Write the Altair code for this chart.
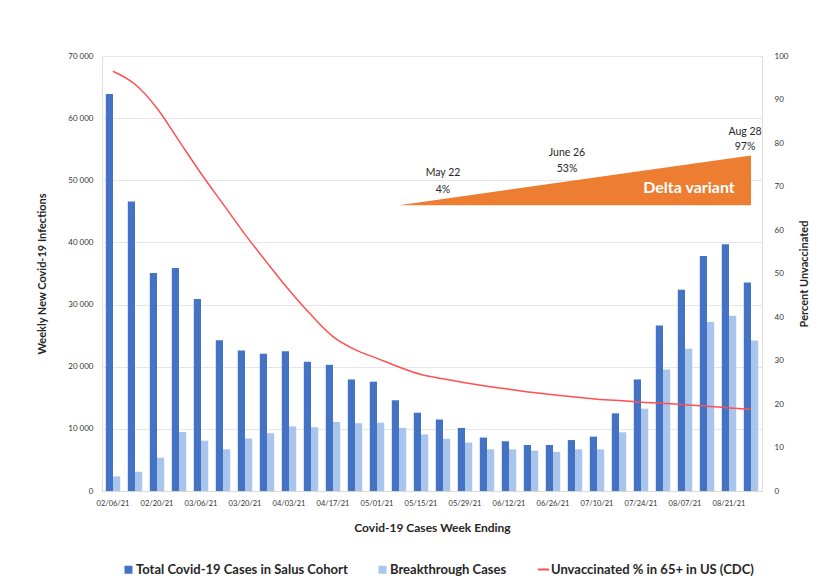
import altair as alt
import pandas as pd

# ---------------- data ----------------
weeks = ["02/06/21", "02/13/21", "02/20/21", "02/27/21", "03/06/21", "03/13/21",
         "03/20/21", "03/27/21", "04/03/21", "04/10/21", "04/17/21", "04/24/21",
         "05/01/21", "05/08/21", "05/15/21", "05/22/21", "05/29/21", "06/05/21",
         "06/12/21", "06/19/21", "06/26/21", "07/03/21", "07/10/21", "07/17/21",
         "07/24/21", "07/31/21", "08/07/21", "08/14/21", "08/21/21", "08/28/21"]

total_cases = [63900, 46600, 35100, 35900, 30900, 24250, 22600, 22100, 22500, 20800,
               20300, 17950, 17600, 14600, 12600, 11500, 10150, 8600, 8000, 7400,
               7400, 8200, 8750, 12500, 17950, 26650, 32400, 37800, 39700, 33550]

breakthrough_cases = [2350, 3100, 5350, 9500, 8100, 6700, 8450, 9300, 10400, 10250,
                      11100, 10900, 11000, 10150, 9100, 8400, 7800, 6700, 6700, 6500,
                      6300, 6700, 6700, 9450, 13250, 19550, 22900, 27200, 28200, 24200]

unvaccinated_pct = [96.5, 93.5, 88.0, 80.5, 73.0, 66.0, 59.0, 52.5, 46.2, 40.5,
                    35.5, 32.5, 30.5, 28.5, 26.8, 25.8, 24.9, 24.1, 23.4, 22.7,
                    22.1, 21.6, 21.1, 20.8, 20.4, 20.2, 19.8, 19.5, 19.1, 18.8]

x_tick_labels = ["02/06/21", "02/20/21", "03/06/21", "03/20/21", "04/03/21",
                 "04/17/21", "05/01/21", "05/15/21", "05/29/21", "06/12/21",
                 "06/26/21", "07/10/21", "07/24/21", "08/07/21", "08/21/21"]
left_ticks = [0, 10000, 20000, 30000, 40000, 50000, 60000, 70000]
right_ticks = [0, 10, 20, 30, 40, 50, 60, 70, 80, 90, 100]

series_names = ["Total Covid-19 Cases in Salus Cohort", "Breakthrough Cases"]
line_name = "Unvaccinated % in 65+ in US (CDC)"

# Delta variant wedge
delta_weeks = ["05/08/21", "08/28/21"]
delta_top = [65.7, 77.1]
delta_base = [65.7, 65.7]

# annotation texts (three date labels, two lines each)
may_week = ["05/22/21", "05/22/21"]
may_text = ["May 22", "4%"]
may_pct = [73.0, 69.3]
jun_week = ["06/26/21", "06/26/21"]
jun_text = ["June 26", "53%"]
jun_pct = [77.6, 74.1]
aug_week = ["08/28/21", "08/28/21"]
aug_text = ["Aug 28", "97%"]
aug_pct = [82.6, 79.0]

delta_label_week = ["08/07/21"]
delta_label_pct = [69.6]
delta_label_text = ["Delta variant"]

# ---------------- tables ----------------
bar_df = pd.DataFrame({
    "week": weeks * 2,
    "series": [series_names[0]] * len(weeks) + [series_names[1]] * len(weeks),
    "cases": total_cases + breakthrough_cases,
})
line_df = pd.DataFrame({"week": weeks, "pct": unvaccinated_pct, "label": [line_name] * len(weeks)})
delta_df = pd.DataFrame({"week": delta_weeks, "pct": delta_top, "base": delta_base})
may_df = pd.DataFrame({"week": may_week, "pct": may_pct, "text": may_text})
jun_df = pd.DataFrame({"week": jun_week, "pct": jun_pct, "text": jun_text})
aug_df = pd.DataFrame({"week": aug_week, "pct": aug_pct, "text": aug_text})
dl_df = pd.DataFrame({"week": delta_label_week, "pct": delta_label_pct, "text": delta_label_text})

FONT = "Lato"
DARK = "#4472C4"
LIGHT = "#A9C5EB"
RED = "#FF5050"
ORANGE = "#ED7D31"

x_enc = alt.X(
    "week:N", sort=weeks,
    scale=alt.Scale(paddingInner=0.345, paddingOuter=0.1725),
    axis=alt.Axis(values=x_tick_labels, title="Covid-19 Cases Week Ending", labelAngle=0,
                  labelFontSize=7.5, labelFont=FONT, labelColor="#333333", labelPadding=8,
                  ticks=False, domain=True, domainColor="#D9D9D9", grid=False,
                  titleFont=FONT, titleFontSize=12, titleFontWeight="bold",
                  titleColor="#262626", titlePadding=16),
)

pct_y = alt.Y(
    "pct:Q", scale=alt.Scale(domain=[0, 100]),
    axis=alt.Axis(orient="right", values=right_ticks, title="Percent Unvaccinated",
                  grid=False, domain=False, ticks=False, labelFont=FONT,
                  labelFontSize=8, labelColor="#333333", labelPadding=12,
                  titleFont=FONT, titleFontSize=11, titleFontWeight="bold",
                  titleColor="#262626", titleAngle=270, titlePadding=22),
)

bars = alt.Chart(bar_df).mark_bar().encode(
    x=x_enc,
    xOffset=alt.XOffset("series:N", sort=series_names),
    y=alt.Y("cases:Q", scale=alt.Scale(domain=[0, 70000]),
            axis=alt.Axis(values=left_ticks, title="Weekly New Covid-19 Infections",
                          labelExpr="replace(format(datum.value, ','), ',', ' ')",
                          grid=True, gridColor="#E6E6E6", domain=False, ticks=False,
                          labelFont=FONT, labelFontSize=8, labelColor="#333333",
                          labelPadding=9, titleFont=FONT, titleFontSize=11,
                          titleFontWeight="bold", titleColor="#262626", titlePadding=20)),
    color=alt.Color("series:N", sort=series_names,
                    scale=alt.Scale(domain=series_names, range=[DARK, LIGHT]),
                    legend=alt.Legend(orient="none", legendX=20, legendY=507,
                                      direction="horizontal", title=None,
                                      symbolType="square", symbolSize=64,
                                      symbolStrokeWidth=0, labelFont=FONT,
                                      labelFontSize=13, labelFontWeight="bold",
                                      labelColor="#262626", labelOffset=1,
                                      labelLimit=0, columnPadding=28, padding=0)),
)

delta = alt.Chart(delta_df).mark_area(color=ORANGE, opacity=1, interpolate="linear").encode(
    x=x_enc, y=pct_y, y2="base:Q"
)


def ann_layer(df, dx):
    return alt.Chart(df).mark_text(font=FONT, fontSize=10.5, color="#262626", dx=dx,
                                   align="center", baseline="middle").encode(
        x=x_enc, y=pct_y, text="text:N"
    )


dl = alt.Chart(dl_df).mark_text(font=FONT, fontSize=16, fontWeight="bold", color="white",
                                align="center", baseline="middle", dx=4).encode(
    x=x_enc, y=pct_y, text="text:N"
)

line = alt.Chart(line_df).mark_line(strokeWidth=1.5, interpolate="monotone").encode(
    x=x_enc, y=pct_y,
    stroke=alt.Stroke("label:N", scale=alt.Scale(domain=[line_name], range=[RED]),
                      legend=alt.Legend(orient="none", legendX=435, legendY=507,
                                        title=None, symbolType="stroke", symbolSize=121,
                                        symbolStrokeWidth=2, labelFont=FONT,
                                        labelFontSize=13, labelFontWeight="bold",
                                        labelColor="#262626", labelOffset=1,
                                        labelLimit=0, padding=0)),
)

right = alt.layer(delta, ann_layer(may_df, 0), ann_layer(jun_df, 14),
                  ann_layer(aug_df, -6), dl, line)

chart = alt.layer(bars, right).resolve_scale(
    y="independent", color="independent"
).properties(
    width=660, height=435,
    autosize=alt.AutoSizeParams(type="none"),
    padding={"left": 94, "top": 48, "right": 55, "bottom": 100},
).configure_view(stroke=None).configure(background="white")

chart.save("out.html", embed_options={"renderer": "svg", "actions": False})
